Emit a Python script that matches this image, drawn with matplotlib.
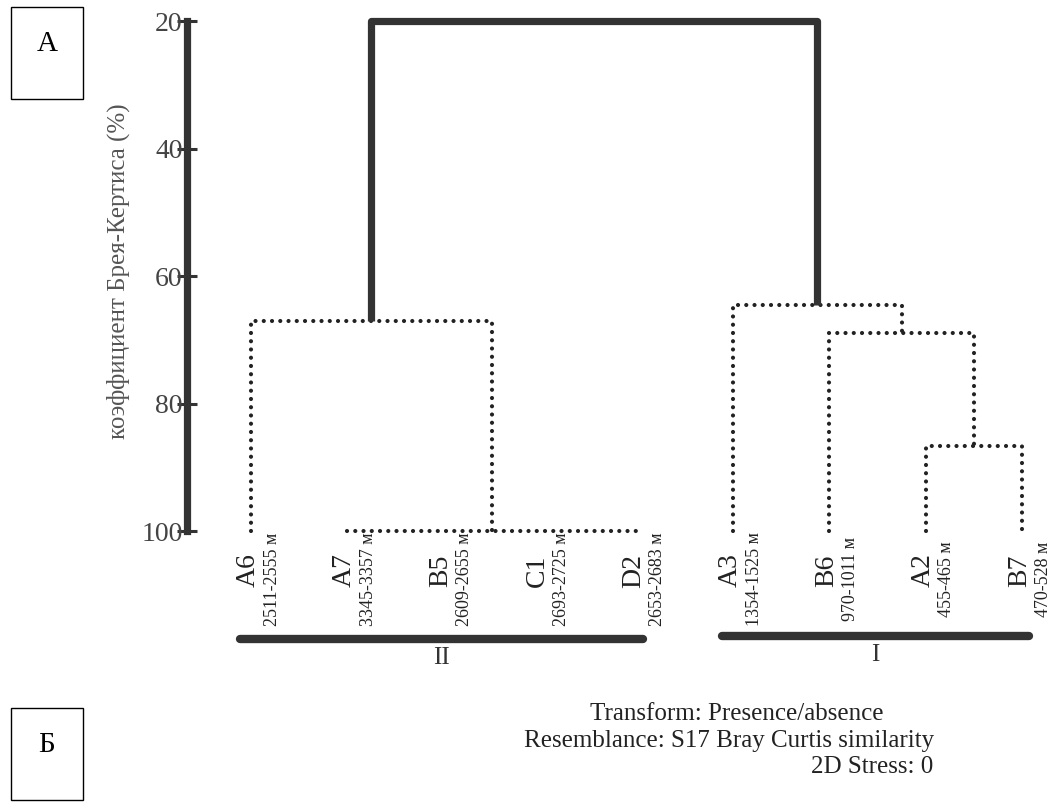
import matplotlib
matplotlib.use('Agg')
import matplotlib.pyplot as plt
import matplotlib.patches as patches

plt.rcParams['font.family'] = ['Liberation Serif', 'DejaVu Serif']

# leaves in dendrogram order
leaves = ['A6', 'A7', 'B5', 'C1', 'D2', 'A3', 'B6', 'A2', 'B7']
depths = ['2511-2555 м', '3345-3357 м', '2609-2655 м', '2693-2725 м', '2653-2683 м',
          '1354-1525 м', '970-1011 м', '455-465 м', '470-528 м']

# merges: (cluster a, cluster b, similarity %); new clusters get ids 9, 10, ...
merge_a = [1, 3, 9, 0, 7, 6, 5, 12]
merge_b = [2, 4, 10, 11, 8, 13, 14, 15]
merge_sim = [100, 100, 100, 67.1, 86.7, 68.9, 64.5, 20]

# groups under the leaves
groups = ['II', 'I']
group_first = [0, 5]
group_last = [4, 8]

yticks = [20, 40, 60, 80, 100]

dark = '#333333'

fig = plt.figure(figsize=(10.53, 8.05), dpi=100)
W, H = 1053, 805
ax = fig.add_axes([187 / W, 1 - 531 / H, 866 / W, 510 / H])
ax.set_xlim(-0.664, 8.32)
ax.set_ylim(100, 20)

n = len(leaves)
xpos = {i: float(i) for i in range(n)}
hgt = {i: 100.0 for i in range(n)}
span = {}   # flat clusters (all members at the same height): leftmost, rightmost

dotted = dict(color='#222222', lw=3.0, linestyle=(0, (0.01, 1.97)),
              dash_capstyle='round', clip_on=False)
thick = dict(color=dark, lw=5.2, solid_capstyle='butt', clip_on=False)


def flush(c):
    # draw the single horizontal line of a flat cluster
    if c in span:
        lo, hi = span.pop(c)
        ax.plot([lo, hi], [hgt[c], hgt[c]], **dotted)


for k in range(len(merge_a)):
    a, b, s = merge_a[k], merge_b[k], merge_sim[k]
    xa, xb = xpos[a], xpos[b]
    c = n + k
    xpos[c] = (xa + xb) / 2
    hgt[c] = s
    if hgt[a] == s and hgt[b] == s:
        lo = min(span.get(a, (xa, xa))[0], span.get(b, (xb, xb))[0])
        hi = max(span.get(a, (xa, xa))[1], span.get(b, (xb, xb))[1])
        span.pop(a, None)
        span.pop(b, None)
        span[c] = (lo, hi)
        continue
    flush(a)
    flush(b)
    style = thick if k == len(merge_a) - 1 else dotted
    ax.plot([xa, xa, xb, xb], [hgt[a], s, s, hgt[b]], **style)

# leaf labels
for i in range(n):
    ax.text(i - 0.03, 106.2, leaves[i], rotation=90, ha='center', va='center',
            fontsize=20, color='#222222', clip_on=False)
    ax.text(i + 0.22, 107.6, depths[i], rotation=90, ha='center', va='center',
            fontsize=13, color='#222222', clip_on=False)

# group bars
bar_y = [116.9, 116.5]
for g in range(len(groups)):
    x0 = group_first[g] - 0.11
    x1 = group_last[g] + 0.07
    ax.plot([x0, x1], [bar_y[g], bar_y[g]], color=dark, lw=6,
            solid_capstyle='round', clip_on=False)
    ax.text((x0 + x1) / 2, bar_y[g] + 3.0, groups[g], ha='center', va='center',
            fontsize=18, color='#333333', clip_on=False)

# axis
for sp in ['top', 'right', 'bottom']:
    ax.spines[sp].set_visible(False)
ax.spines['left'].set_linewidth(5.2)
ax.spines['left'].set_color(dark)
ax.set_xticks([])
ax.set_yticks(yticks)
ax.tick_params(axis='y', direction='inout', length=14, width=2.2, color=dark,
               labelsize=20, labelcolor='#444444', pad=-4)
ax.set_ylabel('коэффициент Брея-Кертиса (%)', fontsize=18, color='#555555')
ax.yaxis.set_label_coords(-0.066, 0.51)
ax.patch.set_visible(False)

# notes
fig.text(737 / W, 1 - 714 / H, 'Transform: Presence/absence', ha='center', va='center',
         fontsize=18, color='#222222')
fig.text(729 / W, 1 - 741 / H, 'Resemblance: S17 Bray Curtis similarity', ha='center',
         va='center', fontsize=18, color='#222222')
fig.text(933 / W, 1 - 767 / H, '2D Stress: 0', ha='right', va='center',
         fontsize=18, color='#222222')

# panel letters
for lab, top in [('А', 7), ('Б', 708)]:
    fig.add_artist(patches.Rectangle((11 / W, 1 - (top + 92) / H), 72 / W, 92 / H,
                                     transform=fig.transFigure, fill=False,
                                     edgecolor='black', lw=1.0))
    fig.text(47 / W, 1 - (top + 37) / H, lab, ha='center', va='center',
             fontsize=21, color='black')

fig.savefig('out.png', dpi=100)
